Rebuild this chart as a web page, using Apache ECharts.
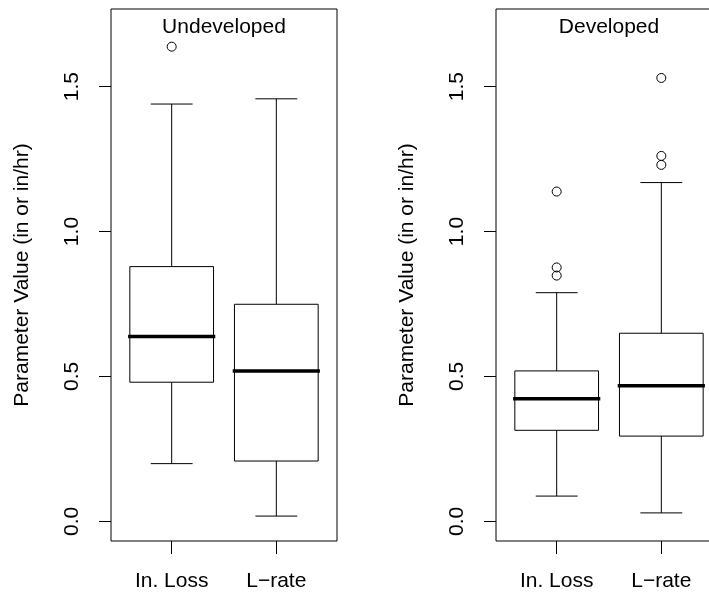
<!DOCTYPE html>
<html>
<head>
<meta charset="utf-8">
<script src="https://cdn.jsdelivr.net/npm/echarts@6/dist/echarts.min.js"></script>
<style>
  html, body { margin: 0; padding: 0; background: #fff; }
  #chart { width: 709px; height: 595px; }
</style>
</head>
<body>
<div id="chart"></div>
<script>
// Panel titles and box categories
const groups = ['Undeveloped', 'Developed'];
const categories = ['In. Loss', 'L\u2212rate'];

// Five-number summaries per category: [lower whisker, Q1, median, Q3, upper whisker]
const undevelopedStats = [
  [0.199, 0.480, 0.638, 0.879, 1.440],
  [0.018, 0.208, 0.519, 0.749, 1.458]
];
const developedStats = [
  [0.087, 0.314, 0.423, 0.519, 0.789],
  [0.029, 0.294, 0.468, 0.649, 1.169]
];

// Outlying points per category
const undevelopedOutliers = [[1.638], []];
const developedOutliers = [[1.138, 0.876, 0.848], [1.530, 1.261, 1.230]];

// Y axis tick values
const yTicks = [0, 0.5, 1.0, 1.5];
const yName = 'Parameter Value (in or in/hr)';

const FONT = '"Liberation Sans", Arial, Helvetica, sans-serif';
const FS = 21;

const panels = [
  { left: 111, stats: undevelopedStats, outliers: undevelopedOutliers },
  { left: 496, stats: developedStats, outliers: developedOutliers }
];
const gridTop = 9, gridH = 532, gridW = 226;

function boxRender(params, api) {
  const x = api.value(0);
  const lo = api.coord([x, api.value(1)]);
  const q1 = api.coord([x, api.value(2)]);
  const md = api.coord([x, api.value(3)]);
  const q3 = api.coord([x, api.value(4)]);
  const hi = api.coord([x, api.value(5)]);
  const boxW = api.size([0.8, 0])[0];
  const capW = api.size([0.4, 0])[0];
  const cx = q1[0];
  const line = { stroke: '#000', lineWidth: 1 };
  return {
    type: 'group',
    children: [
      { type: 'line', shape: { x1: cx, y1: q3[1], x2: cx, y2: hi[1] }, style: line },
      { type: 'line', shape: { x1: cx, y1: q1[1], x2: cx, y2: lo[1] }, style: line },
      { type: 'line', shape: { x1: cx - capW / 2, y1: hi[1], x2: cx + capW / 2, y2: hi[1] }, style: line },
      { type: 'line', shape: { x1: cx - capW / 2, y1: lo[1], x2: cx + capW / 2, y2: lo[1] }, style: line },
      { type: 'rect', shape: { x: cx - boxW / 2, y: q3[1], width: boxW, height: q1[1] - q3[1] },
        style: { fill: '#fff', stroke: '#000', lineWidth: 1 } },
      { type: 'line', shape: { x1: cx - boxW / 2, y1: md[1], x2: cx + boxW / 2, y2: md[1] },
        style: { stroke: '#000', lineWidth: 3.5, lineCap: 'square' } }
    ]
  };
}

const grid = [], xAxis = [], yAxis = [], series = [], title = [];
panels.forEach((p, i) => {
  grid.push({ left: p.left, top: gridTop, width: gridW, height: gridH,
    outerBoundsMode: 'none', containLabel: false,
    show: true, borderColor: '#000', borderWidth: 1, backgroundColor: 'transparent' });
  title.push({
    text: groups[i], left: p.left + gridW / 2, top: 17, textAlign: 'center', padding: 0,
    textStyle: { fontFamily: FONT, fontSize: FS, fontWeight: 'normal', color: '#000' }
  });
  xAxis.push({
    type: 'value', gridIndex: i, min: 0.42, max: 2.58, position: 'bottom',
    splitLine: { show: false }, axisLine: { show: false, onZero: false },
    axisTick: { show: true, length: 13, customValues: [1, 2], lineStyle: { color: '#000', width: 1 } },
    axisLabel: { show: true, customValues: [1, 2], margin: 30,
      formatter: v => categories[Math.round(v) - 1],
      fontFamily: FONT, fontSize: FS, color: '#000' }
  });
  yAxis.push({
    type: 'value', gridIndex: i, min: -0.068, max: 1.768, position: 'left',
    name: yName, nameLocation: 'middle', nameGap: 78,
    nameTextStyle: { fontFamily: FONT, fontSize: FS, color: '#000' },
    splitLine: { show: false }, axisLine: { show: false, onZero: false },
    axisTick: { show: true, length: 12, customValues: yTicks, lineStyle: { color: '#000', width: 1 } },
    axisLabel: { show: true, customValues: yTicks, rotate: 90, margin: 28,
      formatter: v => v.toFixed(1),
      fontFamily: FONT, fontSize: FS, color: '#000' }
  });
  series.push({
    type: 'custom', xAxisIndex: i, yAxisIndex: i,
    renderItem: boxRender,
    encode: { x: 0, y: [1, 2, 3, 4, 5] },
    data: p.stats.map((s, k) => [k + 1].concat(s)),
    silent: true
  });
  const pts = [];
  p.outliers.forEach((list, k) => list.forEach(v => pts.push([k + 1, v])));
  series.push({
    type: 'scatter', xAxisIndex: i, yAxisIndex: i,
    symbol: 'circle', symbolSize: 9,
    itemStyle: { color: 'rgba(0,0,0,0)', borderColor: '#000', borderWidth: 1, opacity: 1 },
    data: pts, silent: true, z: 3
  });
});

const chart = echarts.init(document.getElementById('chart'), null, { renderer: 'canvas' });
chart.setOption({
  animation: false,
  backgroundColor: '#fff',
  title, grid, xAxis, yAxis, series
});
</script>
</body>
</html>
